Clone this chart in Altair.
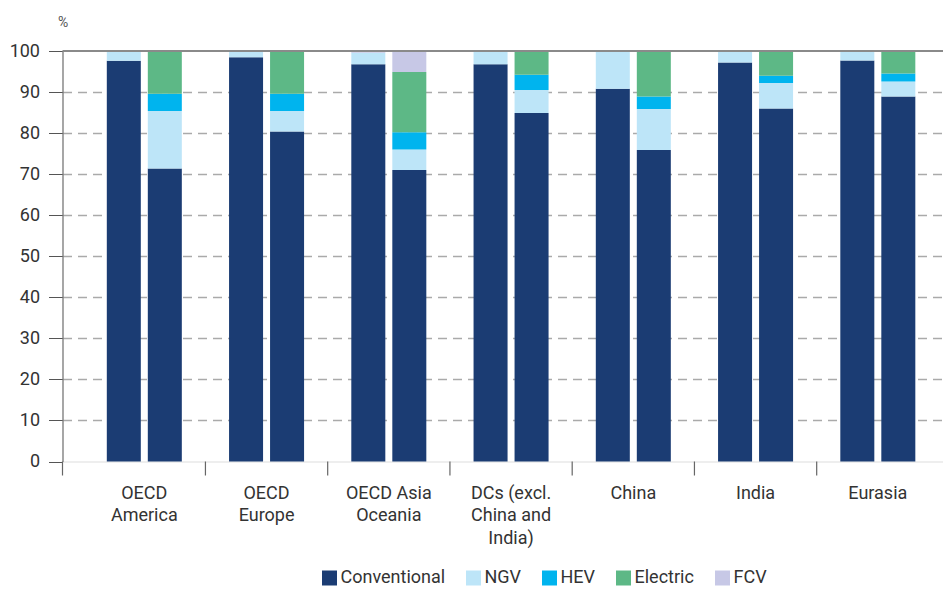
import altair as alt
import pandas as pd

GROUPS = ["OECD|America", "OECD|Europe", "OECD Asia|Oceania",
          "DCs (excl.|China and|India)", "China", "India", "Eurasia"]
YEARS = ["2014", "2040"]
TYPES = ["Conventional", "NGV", "HEV", "Electric", "FCV"]
COLORS = ["#1b3c73", "#bde5f8", "#00b4ee", "#5db886", "#c7c8e6"]

# first bar of each group
conv_a = [97.6, 98.5, 96.8, 96.8, 90.8, 97.2, 97.7]
ngv_a = [2.4, 1.5, 2.8, 3.2, 9.2, 2.8, 2.3]
hev_a = [0, 0, 0, 0, 0, 0, 0]
elec_a = [0, 0, 0, 0, 0, 0, 0]
fcv_a = [0, 0, 0.4, 0, 0, 0, 0]
# second bar of each group
conv_b = [71.4, 80.4, 71.0, 84.9, 75.9, 86.0, 88.9]
ngv_b = [14.0, 5.0, 5.0, 5.6, 10.0, 6.2, 3.7]
hev_b = [4.2, 4.2, 4.2, 3.7, 3.0, 1.8, 1.9]
elec_b = [10.4, 10.4, 14.7, 5.8, 11.1, 6.0, 5.5]
fcv_b = [0, 0, 5.1, 0, 0, 0, 0]

series = {
    "2014": [conv_a, ngv_a, hev_a, elec_a, fcv_a],
    "2040": [conv_b, ngv_b, hev_b, elec_b, fcv_b],
}

rows = []
for year in YEARS:
    for t_i, t in enumerate(TYPES):
        for g_i, g in enumerate(GROUPS):
            rows.append({"group": g, "year": year, "type": t,
                         "rank": t_i, "value": series[year][t_i][g_i]})
df = pd.DataFrame(rows)

W = 880.5
H = 410.5
FONT = "Roboto"
TXT = "#333333"

xscale = alt.Scale(domain=GROUPS, paddingInner=0, paddingOuter=0.1012, align=0.836)

bars = alt.Chart(df).mark_bar().encode(
    x=alt.X("group:N", scale=xscale,
            axis=alt.Axis(title=None, labels=False, ticks=False,
                          domainColor="#777777", domainWidth=1.2, grid=False)),
    xOffset=alt.XOffset("year:N", scale=alt.Scale(domain=YEARS, paddingInner=0.1707,
                                                  paddingOuter=0.576)),
    y=alt.Y("value:Q", stack="zero",
            scale=alt.Scale(domain=[0, 100], nice=False),
            axis=alt.Axis(values=list(range(0, 101, 10)), title="%",
                          titleAngle=0, titleX=0, titleY=-29, titleAlign="center",
                          titleBaseline="middle", titleFontSize=14,
                          titleFontWeight="normal", titleColor="#555555",
                          titleFont=FONT,
                          labelFontSize=18, labelColor=TXT, labelFont=FONT,
                          labelPadding=9, tickSize=14, tickColor="#555555",
                          domainColor="#777777", domainWidth=1.2,
                          grid=True, gridColor="#aaaaaa", gridWidth=1.5,
                          gridDash=[9, 6],
                          gridOpacity={"condition": {"test": "datum.value === 0 || datum.value === 100", "value": 0}, "value": 1})),
    color=alt.Color("type:N", scale=alt.Scale(domain=TYPES, range=COLORS),
                    legend=alt.Legend(title=None, orient="none", legendX=258,
                                      legendY=518, direction="horizontal",
                                      symbolType="square", symbolSize=225,
                                      symbolStrokeWidth=0, symbolOpacity=1,
                                      labelFontSize=18, labelFont=FONT,
                                      labelColor=TXT, labelOffset=2,
                                      columnPadding=19, padding=0)),
    order=alt.Order("rank:Q"),
)

label_df = pd.DataFrame({"group": GROUPS})
labels = alt.Chart(label_df).mark_text(
    baseline="top", align="center", fontSize=18, font=FONT, color=TXT,
    lineBreak="|", lineHeight=22.7).encode(
    x=alt.X("group:N", scale=xscale, axis=None),
    y=alt.value(H + 23.1),
    text="group:N",
)

sep_df = pd.DataFrame({"group": GROUPS[1:]})
seps = alt.Chart(sep_df).mark_rule(color="#666666", strokeWidth=1.2).encode(
    x=alt.X("group:N", bandPosition=0, scale=xscale, axis=None),
    y=alt.value(H),
    y2=alt.value(H + 14),
)

left_ext = alt.Chart(pd.DataFrame({"k": [0]})).mark_rule(
    color="#666666", strokeWidth=1.2).encode(
    x=alt.value(0), y=alt.value(H), y2=alt.value(H + 14))

top_line = alt.Chart(pd.DataFrame({"k": [0]})).mark_rule(
    color="#8a8a8a", strokeWidth=2).encode(
    x=alt.value(0), x2=alt.value(W), y=alt.value(0))

chart = alt.layer(bars, labels, seps, left_ext, top_line).properties(
    width=W, height=H,
    autosize=alt.AutoSizeParams(type="none"),
    padding={"left": 54.5, "top": 43, "right": 0, "bottom": 125},
).configure_view(stroke=None).configure(font=FONT)

chart.save("out.html", embed_options={"renderer": "svg", "actions": False})
